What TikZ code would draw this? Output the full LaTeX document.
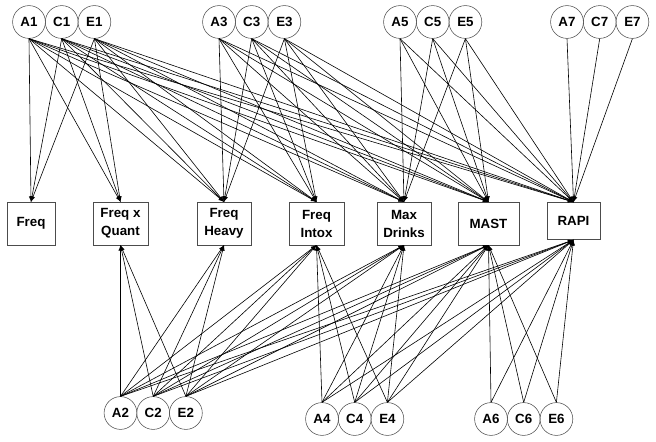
\documentclass[tikz,border=0pt]{standalone}
\usepackage{fontspec}
\setmainfont{Liberation Sans}
\usetikzlibrary{arrows}

\tikzset{
  lat/.style={circle,draw=black!70,inner sep=0pt,minimum size=24.6pt,
    font=\bfseries\fontsize{10}{12}\selectfont},
  obs/.style={rectangle,draw=black!70,inner sep=0pt,align=center,
    minimum height=32pt,font=\bfseries\fontsize{10}{13.5}\selectfont},
  load/.style={-latex,line width=0.45pt}
}

\begin{document}
\begin{tikzpicture}[x=0.75pt,y=-0.75pt]
	\useasboundingbox (0,0) rectangle (656,442);
	% measures
	\node[obs,minimum width=36pt] (m1) at (31,223.5) {Freq};
	\node[obs,minimum width=41pt] (m2) at (120.5,223.5) {Freq x\\Quant};
	\node[obs,minimum width=40.5pt] (m3) at (224,223.5) {Freq\\Heavy};
	\node[obs,minimum width=41pt] (m4) at (316.5,223.5) {Freq\\Intox};
	\node[obs,minimum width=40.5pt] (m5) at (404,223.5) {Max\\Drinks};
	\node[obs,minimum width=45.5pt] (m6) at (488.5,223.5) {MAST};
	\node[obs,minimum width=40pt,minimum height=28pt] (m7) at (573.5,221) {RAPI};
	% odd factors on top
	\foreach \i/\x in {1/29,3/219,5/400,7/567}{
		\node[lat] (a\i) at (\x,22) {A\i};
		\node[lat] (c\i) at (\x+32.7,22) {C\i};
		\node[lat] (e\i) at (\x+65.4,22) {E\i};
	}
	% even factors below
	\foreach \i/\x/\y in {2/120.5/413,4/322/419,6/491/419}{
		\node[lat] (a\i) at (\x,\y) {A\i};
		\node[lat] (c\i) at (\x+32.7,\y) {C\i};
		\node[lat] (e\i) at (\x+65.4,\y) {E\i};
	}
	% loadings
	\foreach \i in {1,3,5,7}
		\foreach \j in {\i,...,7}
			\foreach \f in {a,c,e}
				\draw[load] (\f\i.south) -- (m\j.north);
	\foreach \i in {2,4,6}
		\foreach \j in {\i,...,7}
			\foreach \f in {a,c,e}
				\draw[load] (\f\i.north) -- (m\j.south);
\end{tikzpicture}
\end{document}
